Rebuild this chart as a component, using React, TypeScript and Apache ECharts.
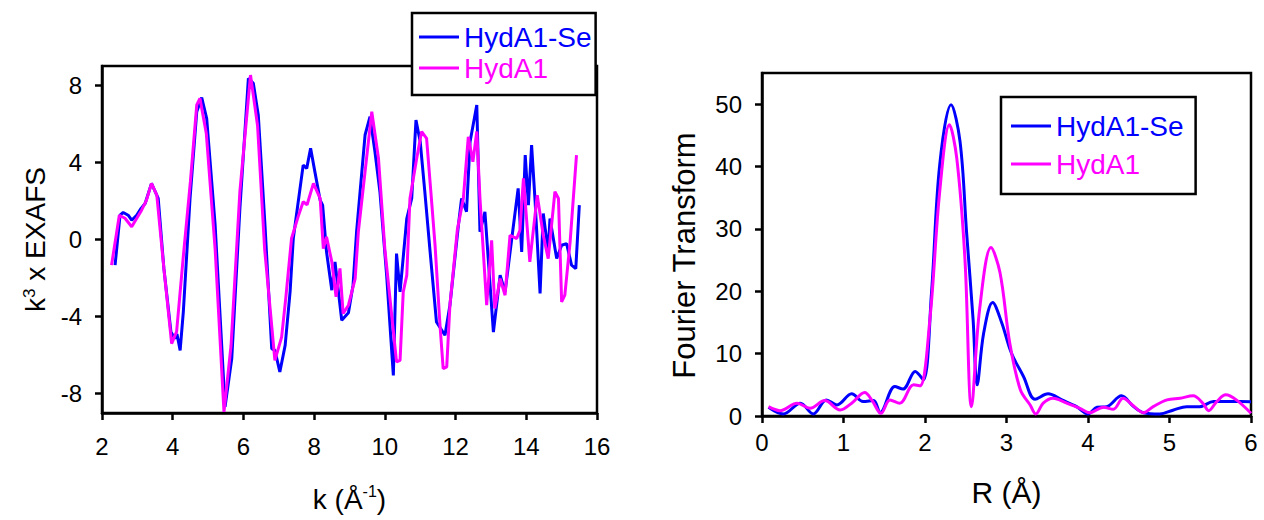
import React, { useEffect, useRef } from "react";
import * as echarts from "echarts";

const FONT = "'Liberation Sans', Arial, Helvetica, sans-serif";
const BLUE = "#0000ff";
const MAGENTA = "#ff00ff";

const seriesNames = ["HydA1-Se", "HydA1"];

// Left panel: k^3 x EXAFS vs k
const kTicks = [2, 4, 6, 8, 10, 12, 14, 16];
const exafsTicks = [-8, -4, 0, 4, 8];

const exafsSe: [number, number][] = [
  [2.37, -1.33], [2.51, 1.26], [2.6, 1.4], [2.74, 1.26], [2.84, 1.0], [2.98, 1.26], [3.1, 1.6],
  [3.22, 1.87], [3.4, 2.91], [3.59, 2.13], [3.75, -1.5], [3.95, -4.8], [4.06, -5.14], [4.12, -4.9],
  [4.21, -5.75], [4.3, -3.75], [4.49, 2.13], [4.68, 6.63], [4.82, 7.36], [4.96, 6.29], [5.2, 0.74],
  [5.48, -8.68], [5.67, -6.18], [5.9, 1.6], [6.14, 8.36], [6.28, 8.1], [6.42, 6.46], [6.61, 0.74],
  [6.8, -5.66], [6.89, -5.75], [7.03, -6.87], [7.18, -5.49], [7.32, -2.7], [7.41, 0.05], [7.55, 1.96],
  [7.69, 3.86], [7.79, 3.69], [7.9, 4.73], [8.02, 3.52], [8.17, 2.04], [8.24, 1.78], [8.35, -0.64],
  [8.5, -2.63], [8.59, -1.16], [8.78, -4.19], [8.97, -3.8], [9.1, -2.37], [9.2, 0.4], [9.44, 5.42],
  [9.58, 6.37], [9.72, 4.55], [9.86, 2.48], [10.05, -1.85], [10.24, -7.05], [10.33, -0.73],
  [10.43, -2.72], [10.62, 1.09], [10.76, 2.13], [10.88, 6.2], [11.0, 5.07], [11.13, 2.48],
  [11.28, -0.64], [11.46, -4.28], [11.7, -4.97], [11.84, -3.41], [12.08, 0.74], [12.17, 2.13],
  [12.31, 1.44], [12.41, 5.07], [12.6, 6.98], [12.69, 0.4], [12.83, 1.44], [13.07, -4.8],
  [13.26, -1.85], [13.4, -2.72], [13.59, 0.05], [13.77, 2.65], [13.87, -0.64], [13.97, 4.38],
  [14.06, 1.78], [14.15, 4.9], [14.25, 1.96], [14.39, -2.8], [14.48, 1.35], [14.62, -0.64],
  [14.67, 1.09], [14.86, -0.99], [15.0, -0.3], [15.14, -0.21], [15.28, -1.33], [15.4, -1.51],
  [15.5, 1.78],
];

const exafsWt: [number, number][] = [
  [2.27, -1.33], [2.49, 1.26], [2.65, 1.1], [2.84, 0.66], [3.12, 1.52], [3.25, 2.0], [3.4, 2.91],
  [3.55, 2.3], [3.75, -1.5], [3.97, -5.4], [4.11, -4.78], [4.3, -0.87], [4.5, 3.0], [4.68, 6.98],
  [4.77, 7.32], [4.95, 5.5], [5.2, -0.5], [5.45, -8.94], [5.65, -5.5], [5.9, 2.5], [6.2, 8.53],
  [6.4, 5.9], [6.6, -0.5], [6.89, -6.27], [7.08, -5.06], [7.2, -3.0], [7.36, 0.05], [7.55, 1.2],
  [7.69, 1.96], [7.8, 1.8], [7.98, 2.91], [8.17, 2.13], [8.26, -0.47], [8.35, 0.14], [8.5, -1.16],
  [8.62, -2.97], [8.73, -1.5], [8.82, -3.84], [8.97, -3.41], [9.16, -2.03], [9.25, 0.4],
  [9.63, 6.63], [9.82, 4.2], [10.0, -0.5], [10.33, -6.35], [10.43, -6.27], [10.52, -2.72],
  [10.62, -1.85], [10.71, 2.13], [10.9, 4.2], [11.04, 5.6], [11.18, 5.25], [11.3, 2.5],
  [11.42, -0.3], [11.56, -4.45], [11.65, -6.7], [11.75, -6.61], [11.84, -3.41], [12.05, 0.5],
  [12.22, 2.13], [12.36, 5.33], [12.49, 4.03], [12.6, 5.6], [12.69, 2.13], [12.88, -3.41],
  [13.02, -0.04], [13.11, -3.58], [13.26, -2.03], [13.4, -2.89], [13.54, 0.22], [13.73, 0.05],
  [13.82, 0.48], [13.92, 3.17], [14.1, -1.16], [14.31, 2.3], [14.48, 0.22], [14.62, -0.99],
  [14.81, 2.48], [14.91, 2.13], [15.0, -3.24], [15.09, -2.89], [15.24, -0.12], [15.42, 4.38],
];

// Right panel: Fourier transform vs R
const rTicks = [0, 1, 2, 3, 4, 5, 6];
const ftTicks = [0, 10, 20, 30, 40, 50];

const ftSe: [number, number][] = [
  [0.08, 1.4], [0.26, 0.32], [0.47, 2.05], [0.63, 0.32], [0.79, 2.58], [0.92, 1.77], [1.1, 3.55],
  [1.24, 2.31], [1.37, 2.47], [1.45, 0.53], [1.63, 4.73], [1.73, 4.31], [1.88, 7.15], [1.98, 5.8],
  [2.08, 19.8], [2.18, 40.2], [2.32, 49.9], [2.43, 44], [2.51, 29.5], [2.59, 15.5], [2.64, 5.0],
  [2.72, 13.3], [2.83, 18.2], [2.94, 15.0], [3.06, 10.1], [3.21, 6.3], [3.35, 2.68], [3.51, 3.55],
  [3.68, 2.58], [3.86, 1.5], [4.0, 0.32], [4.11, 1.4], [4.23, 1.5], [4.41, 3.23], [4.56, 1.5],
  [4.68, 0.53], [4.88, 0.32], [5.05, 0.97], [5.21, 1.5], [5.37, 1.5], [5.54, 2.31], [5.78, 2.31],
  [6.0, 2.3],
];

const ftWt: [number, number][] = [
  [0.08, 1.5], [0.22, 0.86], [0.43, 2.05], [0.59, 1.24], [0.77, 2.47], [0.96, 0.97], [1.1, 2.05],
  [1.26, 3.76], [1.35, 2.5], [1.46, 0.43], [1.57, 2.58], [1.69, 2.05], [1.86, 5.0], [1.94, 4.84],
  [2.06, 15.5], [2.18, 35.9], [2.3, 46.7], [2.39, 41.3], [2.49, 25.2], [2.57, 1.5], [2.67, 17.1],
  [2.81, 27.0], [2.92, 23.0], [3.04, 11.7], [3.17, 4.2], [3.29, 1.77], [3.36, 0.32], [3.45, 2.05],
  [3.57, 2.85], [3.74, 2.05], [3.9, 1.24], [4.02, 0.53], [4.19, 1.4], [4.31, 1.08], [4.43, 2.85],
  [4.56, 1.6], [4.68, 0.53], [4.8, 1.5], [4.97, 2.58], [5.13, 2.85], [5.29, 3.23], [5.41, 2.05],
  [5.48, 0.86], [5.58, 2.31], [5.69, 3.39], [5.82, 2.58], [6.0, 0.43],
];

const axisCommon = {
  axisLine: { show: true, onZero: false, lineStyle: { color: "#000", width: 2.5 } },
  axisTick: { show: true, inside: false, length: 7, lineStyle: { color: "#000", width: 2.5 } },
  splitLine: { show: false },
};

const labelStyle = { color: "#000", fontSize: 24, fontFamily: FONT };

export default function App() {
  const ref = useRef<HTMLDivElement>(null);

  useEffect(() => {
    if (!ref.current) return;
    const chart = echarts.init(ref.current, undefined, { renderer: "svg" });

    const legendBase = {
      orient: "vertical",
      icon: "rect",
      itemWidth: 40,
      itemHeight: 3,
      borderColor: "#000",
      borderWidth: 2.5,
      backgroundColor: "#fff",
      selectedMode: false,
      textStyle: { fontSize: 28, fontFamily: FONT, lineHeight: 30 },
      data: [
        { name: seriesNames[0], textStyle: { color: BLUE } },
        { name: seriesNames[1], textStyle: { color: MAGENTA } },
      ],
    };

    chart.setOption({
      animation: false,
      backgroundColor: "#fff",
      grid: [
        { left: 102, top: 66, width: 495, height: 347, show: true, borderColor: "#000", borderWidth: 2.5, backgroundColor: "transparent" },
        { left: 762, top: 73, width: 489, height: 343, show: true, borderColor: "#000", borderWidth: 2.5, backgroundColor: "transparent" },
      ],
      legend: [
        { ...legendBase, left: 412, top: 13, padding: [9, 4, 12, 7], itemGap: 1, itemTextGap: 2 },
        { ...legendBase, left: 1001, top: 97, padding: [14, 12, 15, 10], itemGap: 8, itemTextGap: 16 },
      ],
      xAxis: [
        {
          gridIndex: 0,
          type: "value",
          min: kTicks[0],
          max: kTicks[kTicks.length - 1],
          interval: 2,
          ...axisCommon,
          axisLabel: { ...labelStyle, margin: 21 },
          name: "{a|k (Å}{s|-1}{a|)}",
          nameLocation: "middle",
          nameGap: 70,
          nameTextStyle: {
            rich: {
              a: { fontSize: 28, fontFamily: FONT, color: "#000", lineHeight: 30, verticalAlign: "bottom" },
              s: { fontSize: 16, fontFamily: FONT, color: "#000", lineHeight: 30, verticalAlign: "top", padding: [0, 0, 10, 0] },
            },
          },
        },
        {
          gridIndex: 1,
          type: "value",
          min: rTicks[0],
          max: rTicks[rTicks.length - 1],
          interval: 1,
          ...axisCommon,
          axisLabel: { ...labelStyle, margin: 14 },
          name: "R (Å)",
          nameLocation: "middle",
          nameGap: 61,
          nameTextStyle: { fontSize: 30, fontFamily: FONT, color: "#000" },
        },
      ],
      yAxis: [
        {
          gridIndex: 0,
          type: "value",
          min: -9,
          max: 9,
          ...axisCommon,
          axisTick: { ...axisCommon.axisTick, customValues: exafsTicks },
          axisLabel: { ...labelStyle, margin: 20, customValues: exafsTicks },
          name: "{a|k}{s|3}{a| x EXAFS}",
          nameLocation: "middle",
          nameGap: 52,
          nameTextStyle: {
            rich: {
              a: { fontSize: 28, fontFamily: FONT, color: "#000", lineHeight: 30 },
              s: { fontSize: 17, fontFamily: FONT, color: "#000", lineHeight: 30, padding: [0, 0, 12, 0] },
            },
          },
        },
        {
          gridIndex: 1,
          type: "value",
          min: 0,
          max: 55,
          ...axisCommon,
          axisTick: { ...axisCommon.axisTick, customValues: ftTicks },
          axisLabel: { ...labelStyle, margin: 20, customValues: ftTicks },
          name: "Fourier Transform",
          nameLocation: "middle",
          nameGap: 62,
          nameTextStyle: { fontSize: 31, fontFamily: FONT, color: "#000", padding: [0, 22, 0, 0] },
        },
      ],
      series: [
        {
          name: seriesNames[0], type: "line", xAxisIndex: 0, yAxisIndex: 0, data: exafsSe,
          showSymbol: false, symbol: "none", lineStyle: { color: BLUE, width: 3 }, itemStyle: { color: BLUE },
        },
        {
          name: seriesNames[1], type: "line", xAxisIndex: 0, yAxisIndex: 0, data: exafsWt,
          showSymbol: false, symbol: "none", lineStyle: { color: MAGENTA, width: 3 }, itemStyle: { color: MAGENTA },
        },
        {
          name: seriesNames[0], type: "line", xAxisIndex: 1, yAxisIndex: 1, data: ftSe, smooth: 0.35,
          showSymbol: false, symbol: "none", lineStyle: { color: BLUE, width: 3 }, itemStyle: { color: BLUE },
        },
        {
          name: seriesNames[1], type: "line", xAxisIndex: 1, yAxisIndex: 1, data: ftWt, smooth: 0.35,
          showSymbol: false, symbol: "none", lineStyle: { color: MAGENTA, width: 3 }, itemStyle: { color: MAGENTA },
        },
      ],
    });

    return () => chart.dispose();
  }, []);

  return (
    <div
      ref={ref}
      style={{ position: "fixed", left: 0, top: 0, width: 1264, height: 520, background: "#fff" }}
    />
  );
}
